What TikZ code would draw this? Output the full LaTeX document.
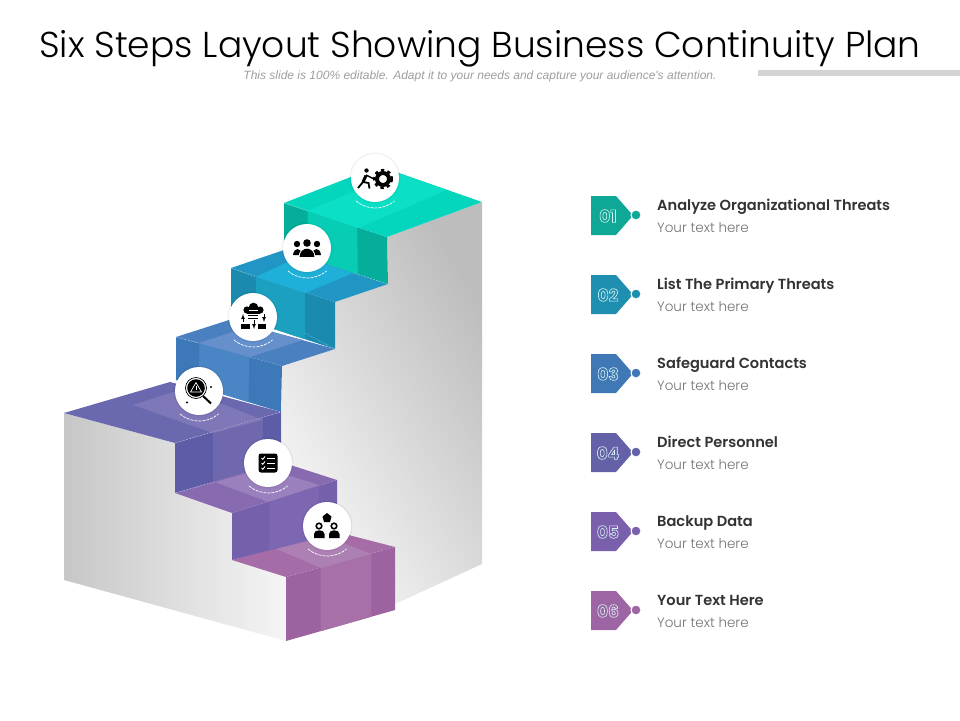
\documentclass[tikz,border=0pt]{standalone}
\usepackage{fontspec}
\setmainfont{Poppins}
\newfontfamily\subfont{Liberation Sans}
\newfontfamily\titlefont{Poppins Light}
\newfontfamily\headfont{Poppins SemiBold}
\usetikzlibrary{calc}
\definecolor{tagone}{HTML}{0FA896}
\definecolor{tagtwo}{HTML}{1E8FB0}
\definecolor{tagthree}{HTML}{3F78B5}
\definecolor{tagfour}{HTML}{6561A8}
\definecolor{tagfive}{HTML}{7A60AC}
\definecolor{tagsix}{HTML}{9D65A3}
\definecolor{onedark}{HTML}{05AD9B}\definecolor{onemid}{HTML}{07CDB5}\definecolor{onetop}{HTML}{03D6BD}\definecolor{onelight}{HTML}{0BE0C6}
\definecolor{twodark}{HTML}{1A8AAF}\definecolor{twomid}{HTML}{1BA0C0}\definecolor{twotop}{HTML}{2196C5}\definecolor{twolight}{HTML}{1EB0D8}
\definecolor{threedark}{HTML}{3D78B8}\definecolor{threemid}{HTML}{4A85C5}\definecolor{threetop}{HTML}{4A80C0}\definecolor{threelight}{HTML}{6590CC}
\definecolor{fourdark}{HTML}{5C5DA6}\definecolor{fourmid}{HTML}{7068AE}\definecolor{fourtop}{HTML}{6A68AF}\definecolor{fourlight}{HTML}{7F78B8}
\definecolor{fivedark}{HTML}{7560AB}\definecolor{fivemid}{HTML}{7D67B2}\definecolor{fivetop}{HTML}{886AB0}\definecolor{fivelight}{HTML}{9A80BD}
\definecolor{sixdark}{HTML}{9D62A0}\definecolor{sixmid}{HTML}{A870A8}\definecolor{sixtop}{HTML}{A66CA8}\definecolor{sixlight}{HTML}{AD80B4}
\def\riserface(#1)(#2)(#3)(#4)[#5:#6][#7:#8]{
	\fill[#7] (#1) -- (#2) -- (#3) -- (#4) -- cycle;
	\fill[#8] ($(#1)!#5!(#2)$) -- ($(#1)!#6!(#2)$) -- ($(#4)!#6!(#3)$) -- ($(#4)!#5!(#3)$) -- cycle;
}
\def\outnum#1{\special{pdf:code q 1 Tr 0.6 w 0.85 0.96 0.96 RG}#1\special{pdf:code Q}}
\tikzset{
	iconcirc/.style={circle,fill=white,minimum size=48pt,inner sep=0pt},
	headtxt/.style={anchor=base west,font=\fontsize{14.6}{16}\selectfont\headfont,text=black!80,inner sep=0pt},
	bodytxt/.style={anchor=base west,font=\fontsize{13.5}{15}\selectfont\titlefont,text=black!55,inner sep=0pt},
	numtxt/.style={font=\fontsize{17}{18}\selectfont\bfseries,inner sep=0pt},
	tagdot/.style={draw=white,line width=1pt},
	seam/.style={white,opacity=0.5,line width=0.4pt,dash pattern=on 1.5pt off 1.5pt},
	ring/.style={white,line width=0.7pt,dash pattern=on 3pt off 1pt}
}
\begin{document}
\begin{tikzpicture}[x=1pt,y=-1pt]
	\useasboundingbox (0,0) rectangle (960,720);
	%%%%% HEADER %%%%%
	\node[inner sep=0pt,anchor=base] (title) at (480,57.5) {\titlefont\fontsize{36}{38}\selectfont Six Steps Layout Showing Business Continuity Plan};
	\node[inner sep=0pt,anchor=base,text=black!38] (subtitle) at (480,79) {\subfont\itshape\fontsize{12}{13}\selectfont This slide is 100\% editable. Adapt it to your needs and capture your audience's attention.};
	\fill[black!17] (758,70) rectangle (960,76);

	%%%%% WALLS %%%%%
	\shade[left color=black!22,right color=black!4] (64,413) -- (175,443) -- (175,493) -- (232,513) -- (232,560) -- (286,577) -- (286,641) -- (64,580) -- cycle;
	\shade[bottom color=black!3,middle color=black!12,top color=black!26,shading angle=-60] (482,202) -- (387,237) -- (388,284) -- (335,302) -- (335,349) -- (282,366) -- (281,462) -- (337,480) -- (337,533) -- (395,547) -- (395,604) -- (482,564) -- cycle;

	%%%%% STEP SIX %%%%%
	\riserface(286,577)(395,547)(395,610)(286,641)[0.32:0.78][sixdark:sixmid]
	\fill[sixtop] (232,560) -- (286,577) -- (395,547) -- (337,532) -- cycle;
	\fill[sixlight] (272,547) -- (321,568) -- (371,554) -- (320,534) -- cycle;

	%%%%% STEP FIVE %%%%%
	\riserface(232,513)(337,480)(337,533)(232,560)[0.35:0.83][fivedark:fivemid]
	\fill[fivetop] (175,493) -- (232,513) -- (337,480) -- (281,462) -- cycle;
	\fill[fivelight] (215,482) -- (268,502) -- (319,485) -- (265,468) -- cycle;

	%%%%% STEP FOUR %%%%%
	\riserface(175,443)(281,412)(281,462)(175,493)[0.36:0.83][fourdark:fourmid]
	\fill[fourtop] (64,413) -- (175,443) -- (281,412) -- (170,382) -- cycle;
	\fill[fourlight] (133,405) -- (213,433) -- (263,420) -- (225,405) -- (173,392) -- cycle;

	%%%%% STEP THREE %%%%%
	\riserface(176,337)(282,366)(281,412)(176,380)[0.22:0.69][threedark:threemid]
	\fill[threetop] (176,337) -- (282,366) -- (335,349) -- (229,320) -- cycle;
	\fill[threelight] (199,343) -- (250,357) -- (303,340) -- (250,326) -- cycle;

	%%%%% STEP TWO %%%%%
	\riserface(231,268)(335,302)(335,349)(231,315)[0.24:0.71][twodark:twomid]
	\fill[twotop] (231,268) -- (335,302) -- (388,284) -- (284,250) -- cycle;
	\fill[twolight] (256,277) -- (305,293) -- (353,273) -- (300,256) -- cycle;

	%%%%% STEP ONE %%%%%
	\riserface(284,203)(387,237)(388,284)(284,250)[0.23:0.71][onedark:onemid]
	\fill[onetop] (284,203) -- (387,237) -- (482,202) -- (379,166) -- cycle;
	\fill[onelight] (308,211) -- (358,228) -- (447,190) -- (397,173) -- cycle;

	%%%%% SEAMS %%%%%
	\draw[seam] (353,273) -- (388,284);
	\draw[seam] (305,333) -- (335,349);
	\draw[seam] (284,203) -- (308,211);
	\draw[seam] (231,268) -- (256,277);
	\draw[seam] (176,337) -- (199,343);
	\draw[seam] (175,443) -- (281,412);
	\draw[seam] (175,493) -- (215,482);

	%%%%% ICON CIRCLES %%%%%
	\fill[black,opacity=0.05] (375,178) circle (25.5);
	\fill[black,opacity=0.05] (307,248) circle (25.5);
	\fill[black,opacity=0.05] (253,317) circle (25.5);
	\fill[black,opacity=0.05] (199,391) circle (25.5);
	\fill[black,opacity=0.05] (268,463) circle (25.5);
	\fill[black,opacity=0.05] (327,526) circle (25.5);
	\node[iconcirc] (iconone) at (375,178) {};
	\node[iconcirc] (icontwo) at (307,248) {};
	\node[iconcirc] (iconthree) at (253,317) {};
	\node[iconcirc] (iconfour) at (199,391) {};
	\node[iconcirc] (iconfive) at (268,463) {};
	\node[iconcirc] (iconsix) at (327,526) {};
	\draw[ring] ($(iconone)+(-19,23)$) arc[start angle=130,end angle=50,radius=30];
	\draw[ring] ($(icontwo)+(-19,23)$) arc[start angle=130,end angle=50,radius=30];
	\draw[ring] ($(iconthree)+(-19,23)$) arc[start angle=130,end angle=50,radius=30];
	\draw[ring] ($(iconfour)+(-19,23)$) arc[start angle=130,end angle=50,radius=30];
	\draw[ring] ($(iconfive)+(-19,23)$) arc[start angle=130,end angle=50,radius=30];
	\draw[ring] ($(iconsix)+(-19,23)$) arc[start angle=130,end angle=50,radius=30];

	%%%%% ICON ONE %%%%%
	\fill (366.5,170.5) circle (2.2);
	\draw[line width=3pt] (366,175.5) -- (363,182);
	\draw[line width=1.8pt] (363,182) -- (358,188);
	\draw[line width=1.8pt] (363,182) -- (368.5,183) -- (369.5,188.5);
	\draw[line width=1.5pt] (366,175) -- (373,178.5);
	\draw[line width=2.4pt,dash pattern=on 3.3pt off 3.3pt] (383,179) circle (8.9);
	\draw[line width=4pt] (383,179) circle (6);

	%%%%% ICON TWO %%%%%
	\fill (297,244) circle (3.2);
	\fill (317,244) circle (3.2);
	\fill (307,243) circle (3.8);
	\fill (293,255) .. controls (294,247) and (301,247) .. (302,255) -- cycle;
	\fill (312,255) .. controls (313,247) and (320,247) .. (321,255) -- cycle;
	\draw[white,fill=black,line width=0.8pt] (299,257.5) .. controls (299,245) and (315,245) .. (315,257.5) -- cycle;

	%%%%% ICON THREE %%%%%
	\fill (247,310) circle (3.6) (253.5,307.5) circle (4.8) (260,310) circle (3.6);
	\fill (247,309) rectangle (260,313.6);
	\draw[white,line width=0.8pt] (249,310.5) -- (258,310.5);
	\draw[line width=0.8pt] (248,315.5) -- (258,315.5) (248,318) -- (258,318);
	\draw[-latex,line width=0.7pt] (243,322) -- (243,314);
	\draw[-latex,line width=0.7pt] (264,314) -- (264,322);
	\draw[-latex,line width=0.7pt] (254,320) -- (254,329);
	\fill (241,323.5) rectangle (250,329);
	\fill (257.5,323.5) rectangle (266,329);

	%%%%% ICON FOUR %%%%%
	\draw[line width=0.7pt] (196,388) circle (10.5);
	\fill (196,388) circle (8.8);
	\draw[line width=2pt] (203,396) -- (211,403.5);
	\draw[white,line width=0.7pt,line join=round] (196,382.5) -- (201.5,392) -- (190.5,392) -- cycle;
	\fill[white] (195.6,385.5) rectangle (196.4,389.5);
	\fill (211,387) circle (1.1);
	\fill (187,402.5) circle (1.1);

	%%%%% ICON FIVE %%%%%
	\fill[rounded corners=2.5pt] (258.5,453.5) rectangle (277.5,472.5);
	\draw[white,line width=0.9pt] (261.5,458) -- (262.8,459.3) -- (265,456.5);
	\draw[white,line width=0.9pt] (261.5,463) -- (262.8,464.3) -- (265,461.5);
	\draw[white,line width=0.9pt] (261.5,468) -- (262.8,469.3) -- (265,466.5);
	\draw[white,line width=0.9pt] (267,458) -- (275,458) (267,463) -- (275,463) (267,468) -- (275,468);

	%%%%% ICON SIX %%%%%
	\fill (327,513) -- (331.5,516.5) -- (330,522) -- (324,522) -- (322.5,516.5) -- cycle;
	\draw[line width=1.6pt] (319,526) circle (2.8);
	\draw[line width=1.6pt] (334,526) circle (2.8);
	\fill (314,538) -- (314,534) .. controls (314,529) and (324.5,529) .. (324.5,534) -- (324.5,538) -- cycle;
	\fill (329,538) -- (329,534) .. controls (329,529) and (339.5,529) .. (339.5,534) -- (339.5,538) -- cycle;

	%%%%% LABELS %%%%%
	\fill[tagone] (591,196) -- (616,196) -- (633,215.5) -- (616,235) -- (591,235) -- cycle;
	\filldraw[fill=tagone,tagdot] (636,215) circle (5);
	\node[numtxt] (numone) at (608,216) {\outnum{01}};
	\node[headtxt] (headone) at (657,210) {Analyze Organizational Threats};
	\node[bodytxt] (bodyone) at (657,232) {Your text here};

	\fill[tagtwo] (591,275) -- (616,275) -- (633,294.5) -- (616,314) -- (591,314) -- cycle;
	\filldraw[fill=tagtwo,tagdot] (636,294) circle (5);
	\node[numtxt] (numtwo) at (608,295) {\outnum{02}};
	\node[headtxt] (headtwo) at (657,289) {List The Primary Threats};
	\node[bodytxt] (bodytwo) at (657,311) {Your text here};

	\fill[tagthree] (591,354) -- (616,354) -- (633,373.5) -- (616,393) -- (591,393) -- cycle;
	\filldraw[fill=tagthree,tagdot] (636,373) circle (5);
	\node[numtxt] (numthree) at (608,374) {\outnum{03}};
	\node[headtxt] (headthree) at (657,368) {Safeguard Contacts};
	\node[bodytxt] (bodythree) at (657,390) {Your text here};

	\fill[tagfour] (591,433) -- (616,433) -- (633,452.5) -- (616,472) -- (591,472) -- cycle;
	\filldraw[fill=tagfour,tagdot] (636,452) circle (5);
	\node[numtxt] (numfour) at (608,453) {\outnum{04}};
	\node[headtxt] (headfour) at (657,447) {Direct Personnel};
	\node[bodytxt] (bodyfour) at (657,469) {Your text here};

	\fill[tagfive] (591,512) -- (616,512) -- (633,531.5) -- (616,551) -- (591,551) -- cycle;
	\filldraw[fill=tagfive,tagdot] (636,531) circle (5);
	\node[numtxt] (numfive) at (608,532) {\outnum{05}};
	\node[headtxt] (headfive) at (657,526) {Backup Data};
	\node[bodytxt] (bodyfive) at (657,548) {Your text here};

	\fill[tagsix] (591,591) -- (616,591) -- (633,610.5) -- (616,630) -- (591,630) -- cycle;
	\filldraw[fill=tagsix,tagdot] (636,610) circle (5);
	\node[numtxt] (numsix) at (608,611) {\outnum{06}};
	\node[headtxt] (headsix) at (657,605) {Your Text Here};
	\node[bodytxt] (bodysix) at (657,627) {Your text here};
\end{tikzpicture}
\end{document}
